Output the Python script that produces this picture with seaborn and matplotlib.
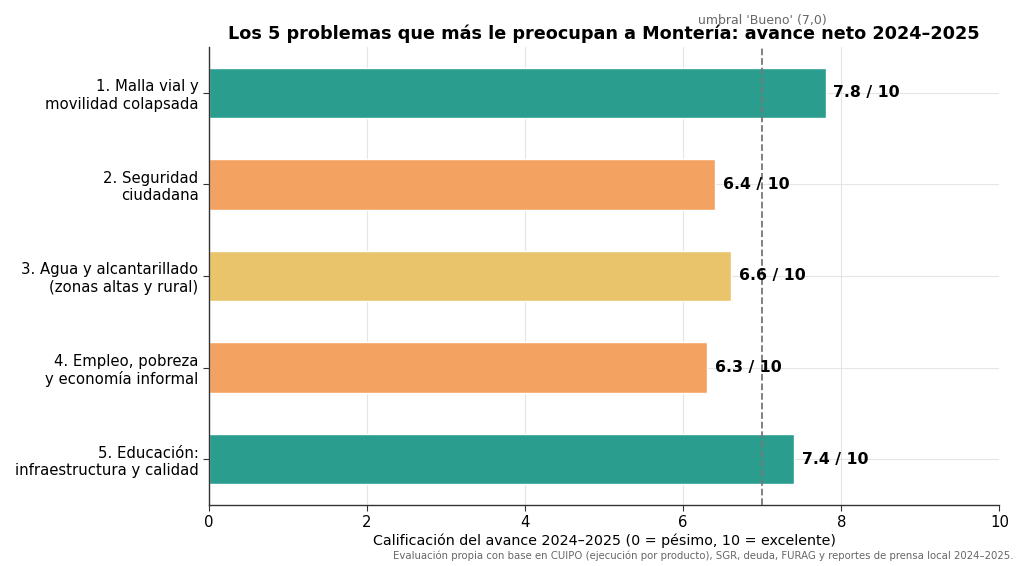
import pandas as pd
import matplotlib
matplotlib.use("Agg")
import matplotlib.pyplot as plt
import matplotlib.transforms as mtransforms
import seaborn as sns

# Datos del gráfico
problemas = [
    '1. Malla vial y\nmovilidad colapsada',
    '2. Seguridad\nciudadana',
    '3. Agua y alcantarillado\n(zonas altas y rural)',
    '4. Empleo, pobreza\ny economía informal',
    '5. Educación:\ninfraestructura y calidad',
]
calificaciones = [7.8, 6.4, 6.6, 6.3, 7.4]
colores = ['#2a9d8f', '#f4a261', '#e9c46a', '#f4a261', '#2a9d8f']
umbral = 7.0

df = pd.DataFrame({'Problema': problemas, 'Calificacion': calificaciones})

sns.set_style("whitegrid")
plt.rcParams['font.family'] = ['DejaVu Sans']
plt.rcParams['text.color'] = 'black'
plt.rcParams['axes.labelcolor'] = 'black'
plt.rcParams['xtick.color'] = 'black'
plt.rcParams['ytick.color'] = 'black'

fig, ax = plt.subplots(figsize=(10.24, 5.66), dpi=100)
fig.subplots_adjust(left=0.204, right=0.976, top=0.917, bottom=0.108)

sns.barplot(data=df, y='Problema', x='Calificacion', hue='Problema',
            palette=colores, legend=False, width=0.55, saturation=1, ax=ax)

# Umbral 'Bueno'
ax.axvline(umbral, color='#777777', linestyle='--', linewidth=1.3, zorder=3)
trans = mtransforms.blended_transform_factory(ax.transData, ax.transAxes)
ax.text(umbral, 1.043, "umbral 'Bueno' (7,0)", transform=trans, ha='center',
        va='bottom', fontsize=9, color='#666666')

# Etiquetas de valor
for i, v in enumerate(calificaciones):
    ax.text(v + 0.1, i, f'{v:.1f} / 10', va='center', ha='left',
            fontsize=11.3, fontweight='bold', color='black')

ax.set_xlim(0, 10)
ax.set_xticks([0, 2, 4, 6, 8, 10])
ax.set_title('Los 5 problemas que más le preocupan a Montería: avance neto 2024–2025',
             fontsize=12.7, fontweight='bold', pad=6, color='black')
ax.set_xlabel('Calificación del avance 2024–2025 (0 = pésimo, 10 = excelente)',
              fontsize=10.3, labelpad=2)
ax.set_ylabel('')
ax.tick_params(axis='both', labelsize=10.7, length=4, color='#333333', left=True, bottom=True)
ax.grid(True, color='#e5e5e5', linewidth=0.8)
ax.set_axisbelow(True)

for s in ['top', 'right']:
    ax.spines[s].set_visible(False)
for s in ['left', 'bottom']:
    ax.spines[s].set_color('#333333')
    ax.spines[s].set_linewidth(1.0)

fig.text(0.99, 0.008,
         'Evaluación propia con base en CUIPO (ejecución por producto), SGR, deuda, FURAG y reportes de prensa local 2024–2025.',
         ha='right', va='bottom', fontsize=7.3, color='#666666')

fig.savefig('out.png', dpi=100)
